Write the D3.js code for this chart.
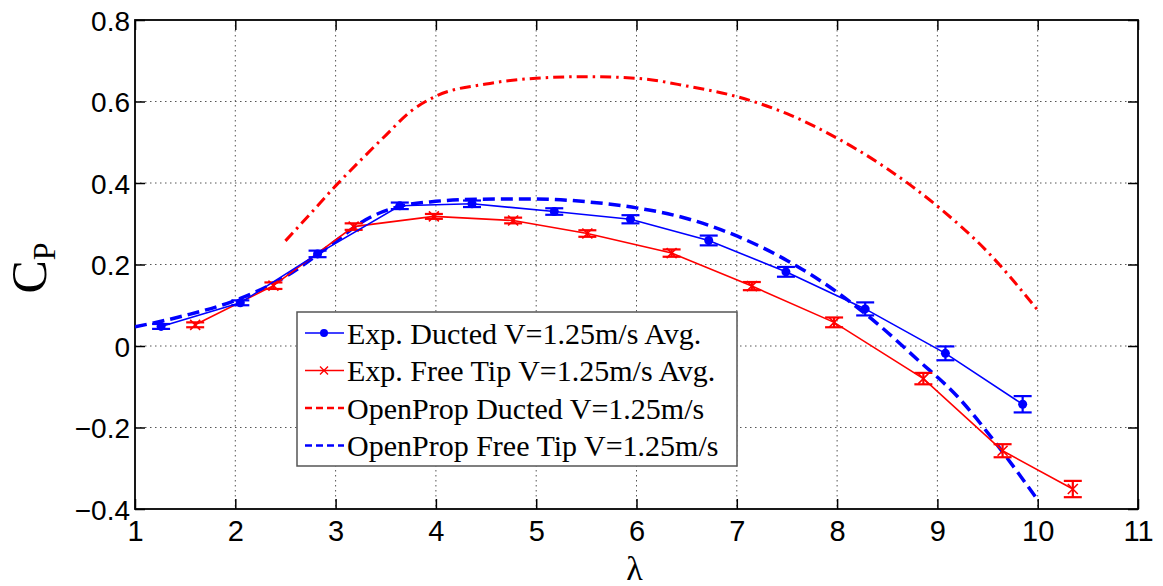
<!DOCTYPE html>
<html>
<head>
<meta charset="utf-8">
<style>
  body { margin: 0; background: #fff; }
  svg { display: block; }
  .tick text { font-family: "Liberation Sans", Arial, sans-serif; }
</style>
<script src="https://cdnjs.cloudflare.com/ajax/libs/d3/7.8.5/d3.min.js"></script>
</head>
<body>
<svg id="plot"></svg>
<script>
// experimental ducted rotor, V=1.25 m/s
var ductedTsr = [1.26, 2.05, 2.82, 3.64, 4.36, 5.18, 5.94, 6.72, 7.49, 8.28, 9.08, 9.85];
var ductedCp  = [0.048, 0.106, 0.226, 0.344, 0.349, 0.330, 0.311, 0.259, 0.182, 0.091, -0.018, -0.143];
var ductedErr = [0.006, 0.006, 0.008, 0.008, 0.008, 0.008, 0.010, 0.012, 0.012, 0.016, 0.017, 0.020];

// experimental free tip rotor
var freeTsr = [1.60, 2.38, 3.18, 3.98, 4.77, 5.51, 6.35, 7.15, 7.97, 8.86, 9.65, 10.35];
var freeCp  = [0.052, 0.148, 0.293, 0.318, 0.308, 0.276, 0.228, 0.147, 0.058, -0.080, -0.257, -0.351];
var freeErr = [0.006, 0.008, 0.008, 0.006, 0.007, 0.008, 0.009, 0.010, 0.012, 0.014, 0.016, 0.020];

// OpenProp predictions
var opDuctTsr = [2.5, 2.75, 3, 3.25, 3.5, 3.75, 4, 4.5, 5, 5.5, 6, 6.5, 7, 7.5, 8, 8.5, 9, 9.5, 10];
var opDuctCp  = [0.258, 0.325, 0.393, 0.456, 0.517, 0.576, 0.613, 0.643, 0.657, 0.661, 0.657, 0.638, 0.612, 0.570, 0.510, 0.435, 0.343, 0.231, 0.088];
var opFreeTsr = [1, 1.5, 2, 2.5, 3, 3.3, 3.6, 4, 4.4, 5, 5.5, 6, 6.5, 7, 7.5, 8, 8.4, 8.8, 9.2, 9.6, 10];
var opFreeCp  = [0.047, 0.075, 0.112, 0.170, 0.257, 0.310, 0.340, 0.355, 0.360, 0.361, 0.354, 0.339, 0.313, 0.270, 0.210, 0.132, 0.055, -0.033, -0.124, -0.244, -0.378];

var xTicks = [1, 2, 3, 4, 5, 6, 7, 8, 9, 10, 11];
var yTicks = [-0.4, -0.2, 0, 0.2, 0.4, 0.6, 0.8];

var legendLabels = ["Exp. Ducted V=1.25m/s Avg.", "Exp. Free Tip V=1.25m/s Avg.",
                    "OpenProp Ducted V=1.25m/s", "OpenProp Free Tip V=1.25m/s"];

var screen = {width: 1163, height: 586};
var margins = {top: 20, left: 135, right: 25, bottom: 77};
var graph = {
    width: screen.width - margins.left - margins.right,
    height: screen.height - margins.top - margins.bottom
};

var svg = d3.select("#plot")
    .attr("width", screen.width)
    .attr("height", screen.height);

var xScale = d3.scaleLinear().domain([1, 11]).range([0, graph.width]);
var yScale = d3.scaleLinear().domain([-0.4, 0.8]).range([graph.height, 0]);

var g = svg.append("g")
    .attr("transform", "translate(" + margins.left + "," + margins.top + ")");

// grid
var grid = g.append("g");
grid.selectAll(".vg").data(xTicks.slice(1, -1)).enter().append("line")
    .attr("x1", d => xScale(d)).attr("x2", d => xScale(d))
    .attr("y1", 0).attr("y2", graph.height)
    .attr("stroke", "#555").attr("stroke-width", 1).attr("stroke-dasharray", "1.5,3.5");
grid.selectAll(".hg").data(yTicks.slice(1, -1)).enter().append("line")
    .attr("y1", d => yScale(d)).attr("y2", d => yScale(d))
    .attr("x1", 0).attr("x2", graph.width)
    .attr("stroke", "#555").attr("stroke-width", 1).attr("stroke-dasharray", "1.5,3.5");

// axes (ticks inward on all sides)
var xAxis = d3.axisBottom(xScale).tickValues(xTicks).tickSizeInner(-10).tickSizeOuter(0).tickPadding(11)
    .tickFormat(d3.format("d"));
var yAxis = d3.axisLeft(yScale).tickValues(yTicks).tickSizeInner(-10).tickSizeOuter(0).tickPadding(5)
    .tickFormat(d => d === 0 ? "0" : d3.format(".1f")(d));

var xa = g.append("g").attr("transform", "translate(0," + graph.height + ")").call(xAxis);
var ya = g.append("g").call(yAxis);
g.append("g").call(d3.axisTop(xScale).tickValues(xTicks).tickSizeInner(-10).tickSizeOuter(0).tickFormat(""));
g.append("g").attr("transform", "translate(" + graph.width + ",0)")
    .call(d3.axisRight(yScale).tickValues(yTicks).tickSizeInner(-10).tickSizeOuter(0).tickFormat(""));

g.selectAll(".domain").remove();
g.selectAll(".tick line").attr("stroke", "#000").attr("stroke-width", 1.5);
xa.selectAll("text").attr("font-size", 29).attr("fill", "#000");
ya.selectAll("text").attr("font-size", 28).attr("fill", "#000").attr("dy", "0.36em");

g.append("rect")
    .attr("width", graph.width).attr("height", graph.height)
    .attr("fill", "none").attr("stroke", "#000").attr("stroke-width", 1.8);

// clip
svg.append("clipPath").attr("id", "clip").append("rect")
    .attr("width", graph.width).attr("height", graph.height);
var plotArea = g.append("g").attr("clip-path", "url(#clip)");

var zipped = function(xs, ys) { return xs.map((x, i) => ({x: x, y: ys[i]})); };

var smooth = d3.line().x(d => xScale(d.x)).y(d => yScale(d.y)).curve(d3.curveMonotoneX);
var straight = d3.line().x(d => xScale(d.x)).y(d => yScale(d.y));

plotArea.append("path")
    .attr("d", smooth(zipped(opDuctTsr, opDuctCp)))
    .attr("fill", "none").attr("stroke", "#ff0000").attr("stroke-width", 3)
    .attr("stroke-dasharray", "11,5,2.5,5");

plotArea.append("path")
    .attr("d", smooth(zipped(opFreeTsr, opFreeCp)))
    .attr("fill", "none").attr("stroke", "#0000ff").attr("stroke-width", 3.5)
    .attr("stroke-dasharray", "12,6");

var drawExp = function(xs, ys, es, colour, marker)
{
    var data = xs.map((x, i) => ({x: x, y: ys[i], e: es[i]}));
    plotArea.append("path")
        .attr("d", straight(data))
        .attr("fill", "none").attr("stroke", colour).attr("stroke-width", 1.6);

    var bars = plotArea.append("g").selectAll("g").data(data).enter().append("g")
        .attr("stroke", colour).attr("stroke-width", 2.2);
    bars.append("line")
        .attr("x1", d => xScale(d.x)).attr("x2", d => xScale(d.x))
        .attr("y1", d => yScale(d.y + d.e)).attr("y2", d => yScale(d.y - d.e));
    bars.append("line")
        .attr("x1", d => xScale(d.x) - 9).attr("x2", d => xScale(d.x) + 9)
        .attr("y1", d => yScale(d.y + d.e)).attr("y2", d => yScale(d.y + d.e));
    bars.append("line")
        .attr("x1", d => xScale(d.x) - 9).attr("x2", d => xScale(d.x) + 9)
        .attr("y1", d => yScale(d.y - d.e)).attr("y2", d => yScale(d.y - d.e));

    if (marker == "dot") {
        plotArea.append("g").selectAll("circle").data(data).enter().append("circle")
            .attr("cx", d => xScale(d.x)).attr("cy", d => yScale(d.y))
            .attr("r", 4.5).attr("fill", colour);
    } else {
        plotArea.append("g").selectAll("path").data(data).enter().append("path")
            .attr("d", d => {
                var cx = xScale(d.x), cy = yScale(d.y), s = 5;
                return "M" + (cx - s) + "," + (cy - s) + "L" + (cx + s) + "," + (cy + s) +
                       "M" + (cx - s) + "," + (cy + s) + "L" + (cx + s) + "," + (cy - s);
            })
            .attr("stroke", colour).attr("stroke-width", 1.6).attr("fill", "none");
    }
};

drawExp(freeTsr, freeCp, freeErr, "#ff0000", "x");
drawExp(ductedTsr, ductedCp, ductedErr, "#0000ff", "dot");

// axis labels
svg.append("text")
    .attr("x", margins.left + graph.width / 2 - 2).attr("y", 580)
    .attr("text-anchor", "middle")
    .attr("font-family", "'Liberation Serif', 'Times New Roman', serif")
    .attr("font-size", 34)
    .text("λ");

var ylab = svg.append("text")
    .attr("transform", "translate(46,268) rotate(-90)")
    .attr("text-anchor", "middle")
    .attr("font-family", "'Liberation Serif', 'Times New Roman', serif")
    .attr("font-size", 50);
ylab.append("tspan").text("C");
ylab.append("tspan").attr("font-size", 32).attr("dy", 9).text("P");

// legend
var legend = svg.append("g").attr("transform", "translate(297,312)");
legend.append("rect")
    .attr("width", 440).attr("height", 154)
    .attr("fill", "#fff").attr("stroke", "#555").attr("stroke-width", 1.5);

var legendStyle = [
    {colour: "#0000ff", dash: null, width: 1.6, marker: "dot"},
    {colour: "#ff0000", dash: null, width: 1.6, marker: "x"},
    {colour: "#ff0000", dash: "7,4", width: 2.5, marker: null},
    {colour: "#0000ff", dash: "7,4", width: 2.5, marker: null}
];

var rows = legend.selectAll(".row").data(legendLabels).enter().append("g")
    .attr("transform", (d, i) => "translate(0," + (21 + i * 37.5) + ")");

rows.append("line")
    .attr("x1", 8).attr("x2", 47).attr("y1", 0).attr("y2", 0)
    .attr("stroke", (d, i) => legendStyle[i].colour)
    .attr("stroke-width", (d, i) => legendStyle[i].width)
    .attr("stroke-dasharray", (d, i) => legendStyle[i].dash);

rows.filter((d, i) => legendStyle[i].marker == "dot").append("circle")
    .attr("cx", 27).attr("cy", 0).attr("r", 4).attr("fill", "#0000ff");
rows.filter((d, i) => legendStyle[i].marker == "x").append("path")
    .attr("d", "M23,-4L31,4M23,4L31,-4")
    .attr("stroke", "#ff0000").attr("stroke-width", 1.4);

rows.append("text")
    .attr("x", 50).attr("y", 0).attr("dy", "0.35em")
    .attr("font-family", "'Liberation Serif', 'Times New Roman', serif")
    .attr("font-size", 30)
    .text(d => d);
</script>
</body>
</html>
